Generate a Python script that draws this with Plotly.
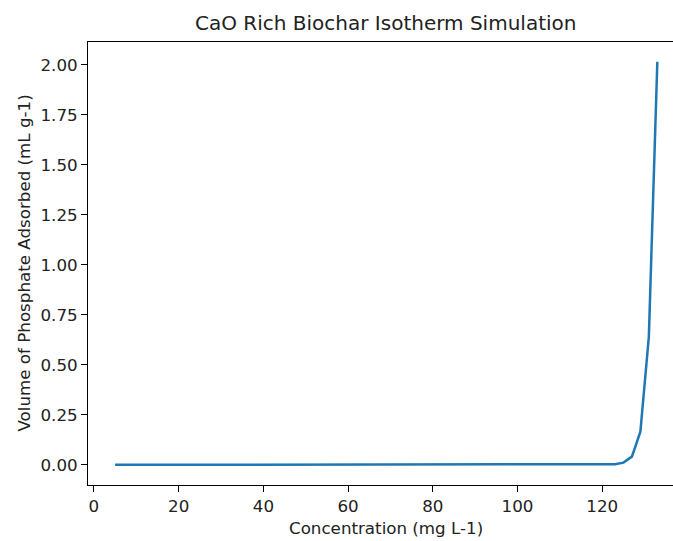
import plotly.graph_objects as go

concentration = [5, 7, 9, 11, 13, 15, 17, 19, 21, 23, 25, 27, 29, 31, 33, 35, 37, 39, 41, 43,
                 45, 47, 49, 51, 53, 55, 57, 59, 61, 63, 65, 67, 69, 71, 73, 75, 77, 79, 81, 83,
                 85, 87, 89, 91, 93, 95, 97, 99, 101, 103, 105, 107, 109, 111, 113, 115, 117, 119,
                 121, 123, 125, 127, 129, 131, 133]
volume = [0.0] * 54 + [0.00001, 0.00003, 0.0001, 0.0003, 0.0008, 0.003, 0.011, 0.041, 0.166, 0.64, 2.015]

y_ticks = [0, 0.25, 0.5, 0.75, 1.0, 1.25, 1.5, 1.75, 2.0]
x_ticks = [0, 20, 40, 60, 80, 100, 120]

title = "CaO Rich Biochar Isotherm Simulation"
x_label = "Concentration (mg L-1)"
y_label = "Volume of Phosphate Adsorbed (mL g-1)"

FONT = "DejaVu Sans"
TICK_SIZE = 16.7
LABEL_SIZE = 16.7
TITLE_SIZE = 20

L, R_EDGE, T, B = 88, 673, 42, 485
PW, PH = R_EDGE - L, B - T
CX = (385.5 - L) / PW

fig = go.Figure()
fig.add_trace(go.Scatter(x=concentration, y=volume, mode="lines",
                         line=dict(color="#1f77b4", width=2.5), showlegend=False))

fig.update_layout(
    width=673, height=541,
    margin=dict(l=L, r=0, t=T, b=541 - B),
    paper_bgcolor="white", plot_bgcolor="white",
    font=dict(family=FONT, size=TICK_SIZE, color="black"),
    xaxis=dict(range=[-1.4, 136.7], tickvals=x_ticks, ticktext=[str(v) for v in x_ticks],
               showgrid=False, zeroline=False, showline=True, linecolor="black", linewidth=1,
               mirror=True, ticks="outside", ticklen=6, tickwidth=1, tickcolor="black",
               tickfont=dict(size=TICK_SIZE, family=FONT, color="#222")),
    yaxis=dict(range=[-0.1008, 2.1135], tickvals=y_ticks, ticktext=[f"{v:.2f}" for v in y_ticks],
               showgrid=False, zeroline=False, showline=True, linecolor="black", linewidth=1,
               mirror=False, ticks="outside", ticklen=6, tickwidth=1, tickcolor="black",
               tickfont=dict(size=TICK_SIZE, family=FONT, color="#222")),
    annotations=[
        dict(text=title, xref="paper", yref="paper", x=CX, y=1 + (T - 23) / PH,
             xanchor="center", yanchor="middle", showarrow=False,
             font=dict(size=TITLE_SIZE, family=FONT, color="#222")),
        dict(text=x_label, xref="paper", yref="paper", x=CX, y=-(528 - B) / PH,
             xanchor="center", yanchor="middle", showarrow=False,
             font=dict(size=LABEL_SIZE, family=FONT, color="#222")),
        dict(text=y_label, xref="paper", yref="paper", x=-(L - 23) / PW, y=0.5,
             xanchor="center", yanchor="middle", showarrow=False, textangle=-90,
             font=dict(size=LABEL_SIZE, family=FONT, color="#222")),
    ],
)

fig.write_html("out.html")
